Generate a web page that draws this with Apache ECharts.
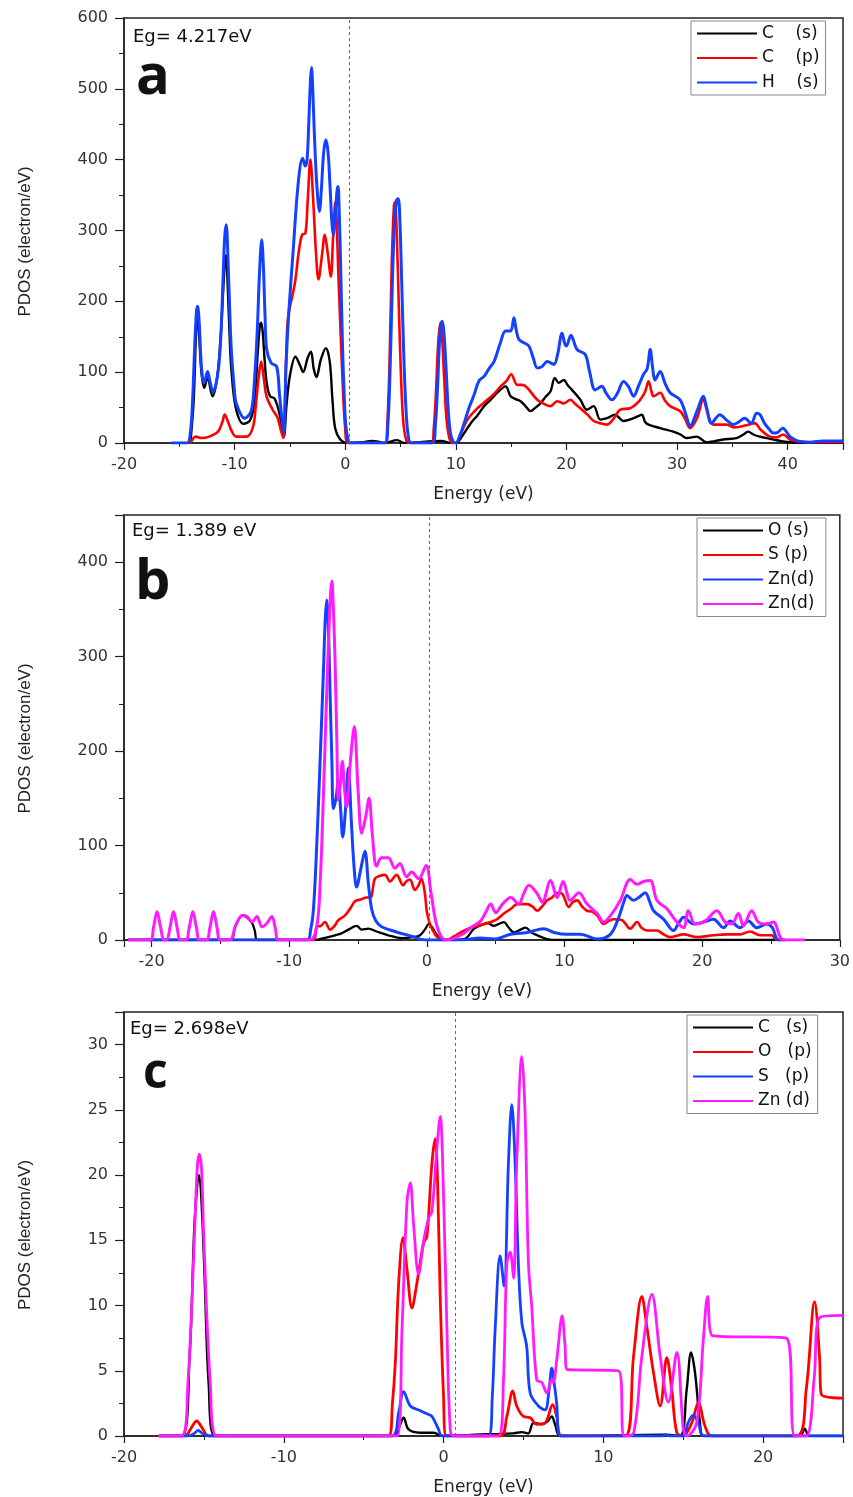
<!DOCTYPE html>
<html>
<head>
<meta charset="utf-8">
<title>PDOS</title>
<script src="https://cdn.jsdelivr.net/npm/echarts@6/dist/echarts.min.js"></script>
<style>
  html, body { margin: 0; padding: 0; background: #fff; }
  #chart { width: 853px; height: 1497px; }
</style>
</head>
<body>
<div id="chart"></div>
<script>
  /******************/
  //region    //data  [energy eV, PDOS]

  // panel a
  const aCs = [[-14.0,0],[-13.7,60],[-13.5,150],[-13.35,185],[-13.2,150],[-13.0,100],[-12.75,78],[-12.45,92],[-12.0,66],[-11.6,90],[-11.3,140],[-11.05,210],[-10.9,250],[-10.78,265],[-10.62,220],[-10.45,150],[-10.3,105],[-9.9,50],[-9.2,27],[-8.6,32],[-8.2,60],[-7.9,130],[-7.72,165],[-7.6,170],[-7.45,155],[-7.3,120],[-7.1,85],[-6.8,66],[-6.4,63],[-6.0,45],[-5.75,25],[-5.55,9],[-5.3,55],[-5.0,95],[-4.5,122],[-4.1,110],[-3.8,100],[-3.4,120],[-3.1,129],[-2.85,105],[-2.6,93],[-2.2,118],[-1.75,134],[-1.4,115],[-1.15,60],[-0.9,20],[-0.45,5],[0.2,0],[1.5,1],[2.4,3],[3.0,2],[3.5,0],[4.7,4],[5.3,0],[8.7,3],[9.5,0],[10,0],[10.5,8],[11.35,28],[12.0,40],[12.55,52],[13.2,62],[13.75,71],[14.5,80],[14.95,66],[15.4,62],[15.85,59],[16.3,52],[16.75,45],[17.2,50],[17.66,56],[18.1,65],[18.56,73],[18.95,92],[19.3,85],[19.76,89],[20.1,82],[20.5,75],[21.26,61],[21.86,47],[22.46,52],[23.06,33],[23.66,35],[24.4,40],[24.8,35],[25.16,31],[26.07,35],[26.5,38],[26.82,40],[27.1,30],[27.42,26],[28.47,21],[29.67,16],[30.3,12],[30.87,7],[31.77,9],[32.67,1],[34.17,5],[35.37,7],[36.0,12],[36.43,16],[36.9,12],[37.48,9],[38.7,5],[40.2,1],[45,0]];
  const aCp = [[-14.0,0],[-13.5,9],[-13.0,7],[-12.3,9],[-11.5,16],[-11.1,30],[-10.9,40],[-10.6,30],[-10.3,18],[-9.85,9],[-8.9,9],[-8.35,22],[-8.1,50],[-7.85,90],[-7.6,115],[-7.35,90],[-7.1,65],[-6.6,48],[-6.1,35],[-5.85,20],[-5.6,7],[-5.45,60],[-5.3,140],[-5.15,179],[-4.55,226],[-4.2,270],[-3.9,294],[-3.6,296],[-3.4,340],[-3.15,400],[-2.9,344],[-2.65,270],[-2.42,231],[-2.1,265],[-1.85,294],[-1.6,270],[-1.3,235],[-1.1,290],[-0.9,340],[-0.6,230],[-0.3,110],[0,20],[0.3,0],[3.6,0],[3.8,25],[4.0,110],[4.2,250],[4.4,335],[4.5,340],[4.65,300],[4.85,190],[5.05,90],[5.25,30],[5.5,5],[5.8,0],[7.8,0],[8.0,20],[8.2,70],[8.4,140],[8.6,170],[8.75,150],[8.95,90],[9.15,35],[9.4,8],[9.7,0],[10,0],[10.5,15],[11.05,33],[11.95,49],[12.85,61],[13.5,70],[14.05,80],[14.6,88],[15.0,97],[15.55,82],[16.0,82],[16.45,78],[17.36,61],[18.0,55],[18.56,52],[19.16,59],[19.76,56],[20.36,61],[20.8,55],[21.26,49],[21.9,40],[22.46,31],[23.0,28],[23.66,26],[24.3,35],[24.86,47],[25.76,49],[26.3,55],[26.67,61],[27.1,72],[27.42,87],[27.7,72],[27.87,66],[28.47,71],[28.9,60],[29.37,52],[30.27,45],[30.7,35],[31.17,21],[31.8,35],[32.37,61],[32.8,40],[33.27,26],[34.47,26],[35.2,22],[35.97,24],[36.5,26],[37.0,28],[37.6,18],[38.4,9],[39.0,8],[39.6,12],[40.2,5],[41.1,2],[42,1],[45,1]];
  const aHs = [[-15.7,0],[-14.3,0],[-14.0,15],[-13.8,60],[-13.6,140],[-13.45,185],[-13.35,193],[-13.2,170],[-13.05,120],[-12.9,92],[-12.75,85],[-12.45,101],[-12.2,85],[-11.95,72],[-11.5,100],[-11.25,150],[-11.05,230],[-10.9,290],[-10.76,308],[-10.62,270],[-10.45,190],[-10.3,132],[-10.05,80],[-9.85,56],[-9.1,35],[-8.5,45],[-8.2,90],[-7.95,160],[-7.75,240],[-7.55,287],[-7.4,250],[-7.25,180],[-7.1,132],[-6.7,113],[-6.2,108],[-5.95,70],[-5.75,38],[-5.55,14],[-5.35,110],[-5.1,185],[-4.7,273],[-4.25,367],[-3.85,402],[-3.62,391],[-3.45,400],[-3.3,450],[-3.15,510],[-3.05,530],[-2.95,505],[-2.8,440],[-2.58,367],[-2.33,327],[-2.15,360],[-1.95,410],[-1.75,428],[-1.55,410],[-1.4,370],[-1.2,310],[-1.08,294],[-0.9,320],[-0.75,355],[-0.65,362],[-0.55,330],[-0.4,240],[-0.25,140],[-0.1,70],[0.05,25],[0.3,2],[0.5,0],[3.6,0],[3.85,25],[4.05,100],[4.25,220],[4.45,310],[4.65,343],[4.8,345],[4.95,310],[5.1,230],[5.3,120],[5.5,45],[5.7,10],[5.95,0],[7.9,0],[8.15,25],[8.35,80],[8.55,150],[8.75,172],[8.9,160],[9.1,110],[9.3,50],[9.5,15],[9.75,2],[10,0],[10.4,12],[10.75,28],[11.2,50],[11.65,68],[12.1,88],[12.55,94],[13.0,105],[13.45,115],[14.0,140],[14.5,158],[14.95,158],[15.25,177],[15.45,160],[15.7,146],[16.1,142],[16.6,137],[17.0,120],[17.36,106],[17.8,108],[18.26,115],[18.86,111],[19.2,125],[19.6,155],[19.85,140],[20.0,137],[20.4,152],[20.96,132],[21.7,125],[22.1,100],[22.6,75],[23.2,80],[23.6,70],[24.1,61],[24.6,70],[25.16,87],[25.6,80],[26.07,66],[26.5,80],[26.97,97],[27.3,105],[27.57,132],[27.8,105],[28.0,89],[28.47,101],[28.9,85],[29.37,71],[30.27,61],[30.8,40],[31.17,24],[31.8,45],[32.37,66],[32.7,48],[33.1,28],[33.87,40],[34.5,32],[35.07,26],[35.6,30],[36.1,35],[36.7,28],[37.2,42],[37.5,40],[37.9,28],[38.3,20],[38.7,14],[39.1,15],[39.55,21],[40.2,9],[40.6,5],[41.1,2],[42,1],[43.2,3],[45,3]];

  // panel b
  const bOs = [[-21.7,0],[-14.3,0],[-13.9,15],[-13.4,26],[-13.07,24],[-12.7,18],[-12.5,10],[-12.3,0],[-8.1,0],[-7.5,2],[-6.67,5],[-6.2,7],[-5.7,11],[-5.1,15],[-4.73,11],[-4.25,12],[-3.65,9],[-2.8,5],[-1.84,2],[-1.0,3],[-0.5,5],[-0.1,12],[0.15,17],[0.4,13],[0.7,6],[1.14,0],[2.7,1],[3.43,12],[4.0,16],[4.4,18],[4.88,15],[5.6,19],[5.9,14],[6.33,8],[6.8,11],[7.17,13],[7.6,8],[8.02,5],[8.74,1],[9.7,0],[26,0]];
  const bSp = [[-21.7,0],[-8.24,0],[-8.0,14],[-7.7,15],[-7.4,19],[-7.03,11],[-6.7,15],[-6.43,21],[-5.94,26],[-5.5,35],[-5.22,41],[-4.8,43],[-4.37,45],[-4.1,45],[-3.77,65],[-3.4,68],[-3.04,69],[-2.68,62],[-2.2,69],[-1.72,58],[-1.5,62],[-1.23,64],[-0.87,53],[-0.6,58],[-0.39,65],[-0.15,50],[0,30],[0.2,18],[0.37,12],[0.77,3],[1.38,0],[2.0,4],[2.46,8],[3.0,12],[3.67,15],[4.2,17],[4.64,19],[5.1,22],[5.6,28],[6.1,33],[6.57,38],[7.3,38],[7.7,35],[8.02,31],[8.4,36],[8.74,42],[9.1,45],[9.47,50],[9.83,49],[10.31,35],[10.6,40],[10.92,42],[11.3,35],[11.64,31],[12.0,30],[12.37,26],[12.85,17],[13.2,20],[13.57,22],[14.18,21],[14.78,12],[15.27,19],[15.6,13],[16.0,10],[16.71,10],[17.2,6],[17.68,3],[18.65,6],[19.61,3],[20.82,5],[21.79,6],[22.75,6],[23.48,9],[24.2,5],[25.05,5],[25.4,0],[26,0]];
  const bZn1 = [[-21.7,0],[-8.7,0],[-8.45,10],[-8.24,32],[-8.0,100],[-7.75,191],[-7.5,290],[-7.38,340],[-7.27,360],[-7.15,330],[-7.03,261],[-6.9,190],[-6.79,139],[-6.6,150],[-6.43,169],[-6.25,135],[-6.11,109],[-5.9,140],[-5.7,182],[-5.5,130],[-5.3,80],[-5.1,56],[-4.8,75],[-4.5,94],[-4.25,60],[-4.0,32],[-3.7,20],[-3.29,14],[-2.32,9],[-1.11,4],[-0.14,0],[2.46,0],[3.9,2],[4.88,1],[6.09,6],[7.3,8],[8.5,12],[9.23,8],[10.2,6],[11.16,6],[12.37,1],[13.33,6],[13.94,24],[14.3,40],[14.54,47],[15.0,42],[15.4,45],[15.87,50],[16.2,40],[16.47,31],[17.2,22],[17.92,10],[18.3,18],[18.65,24],[19.37,17],[20.1,19],[20.82,22],[21.55,13],[22.03,20],[22.75,13],[23.36,20],[23.96,13],[24.69,17],[25.1,13],[25.53,0],[26,0]];
  const bZn2 = [[-21.7,0],[-20.1,0],[-19.85,14],[-19.6,30],[-19.35,14],[-19.1,0],[-18.9,0],[-18.65,14],[-18.4,30],[-18.15,14],[-17.9,0],[-17.5,0],[-17.25,14],[-17.0,30],[-16.75,14],[-16.5,0],[-16.0,0],[-15.75,14],[-15.5,30],[-15.25,14],[-15.0,0],[-14.3,0],[-13.9,15],[-13.4,26],[-13.07,25],[-12.7,19],[-12.34,25],[-11.98,14],[-11.6,18],[-11.26,25],[-11.0,12],[-10.77,0],[-8.48,0],[-8.0,14],[-7.75,60],[-7.51,155],[-7.3,250],[-7.15,314],[-7.0,365],[-6.9,380],[-6.8,355],[-6.67,297],[-6.55,220],[-6.42,148],[-6.28,165],[-6.14,189],[-5.98,160],[-5.82,141],[-5.55,190],[-5.27,226],[-5.0,160],[-4.73,113],[-4.45,130],[-4.2,150],[-3.95,110],[-3.65,78],[-3.29,87],[-2.8,87],[-2.32,76],[-1.96,81],[-1.47,67],[-1.11,72],[-0.6,65],[-0.05,79],[0.3,50],[0.77,13],[1.38,0],[2.46,5],[3.19,13],[3.9,20],[4.3,30],[4.64,38],[5.0,29],[5.5,38],[6.09,45],[6.69,38],[7.0,48],[7.42,58],[8.02,49],[8.38,40],[8.99,63],[9.47,45],[9.9,62],[10.43,42],[11.04,50],[11.64,38],[12.37,28],[12.85,19],[13.45,28],[14.06,42],[14.78,64],[15.27,59],[15.75,62],[16.23,63],[16.71,42],[17.44,33],[18.16,19],[18.65,13],[19.0,31],[19.49,17],[20.22,20],[21.06,31],[21.67,19],[22.15,17],[22.63,28],[23.0,15],[23.6,31],[24.08,19],[24.69,17],[25.17,19],[25.9,0],[27.5,0]];

  // panel c
  const cCs = [[-17.8,0],[-16.4,0],[-15.9,6],[-15.6,16],[-15.4,19.5],[-15.3,20],[-15.15,18],[-14.95,12],[-14.7,4],[-14.3,0],[-3.12,0],[-2.75,0.8],[-2.5,1.4],[-2.19,0.5],[-1.46,0.25],[-0.62,0.25],[-0.1,0],[2.0,0.1],[4.3,0.2],[4.9,0.3],[5.3,0.2],[5.63,1.0],[6.15,0.9],[6.5,1.1],[6.77,1.5],[7.0,0.8],[7.3,0],[13.9,0.1],[14.8,0],[15.22,3.6],[15.49,6.4],[15.74,4.85],[16.05,1.0],[16.26,0],[22.3,0],[22.6,0.56],[22.9,0],[25,0]];
  const cOp = [[-17.8,0],[-16.2,0],[-15.8,0.6],[-15.45,1.15],[-15.1,0.6],[-14.7,0],[-3.44,0],[-3.2,2.5],[-3.02,5.6],[-2.81,11.7],[-2.54,15.2],[-2.29,12.8],[-1.98,9.8],[-1.67,11.7],[-1.25,14.8],[-1.04,15.3],[-0.73,20.9],[-0.52,22.8],[-0.38,19.7],[-0.21,10.7],[0,3],[0.17,0],[3.54,0],[3.96,1.5],[4.33,3.45],[4.58,2.3],[5.0,1.5],[5.42,1.4],[5.83,0.9],[6.35,1.0],[6.83,2.4],[7.08,1.5],[7.4,0],[11.37,0],[11.89,6.1],[12.41,10.7],[12.72,8.4],[13.14,4.85],[13.56,2.3],[13.97,6.0],[14.28,3.6],[14.6,0.25],[15.0,0],[15.53,1.0],[15.95,2.55],[16.36,0.77],[16.78,0],[22.08,0],[22.7,3.6],[23.22,10.3],[23.53,6.1],[23.64,3.2],[25,2.9]];
  const cSp = [[-17.8,0],[-16.0,0],[-15.6,0.2],[-15.35,0.43],[-15.1,0.2],[-14.7,0],[-3.23,0],[-2.81,1.8],[-2.5,3.4],[-2.08,2.3],[-1.56,2.0],[-1.04,1.7],[-0.73,1.5],[-0.31,0.5],[-0.1,0],[2.81,0],[3.05,3],[3.23,8.2],[3.54,13.8],[3.79,11.5],[4.06,20.9],[4.27,25.4],[4.48,20.9],[4.69,13],[4.9,8.7],[5.2,6.9],[5.42,3.3],[5.94,2.3],[6.35,2.0],[6.6,3.5],[6.77,5.2],[6.95,3.8],[7.08,2.5],[7.3,0],[13.7,0],[13.9,0.1],[14.2,0],[15.0,0],[15.3,1.0],[15.63,1.6],[15.95,1.0],[16.3,0],[25,0]];
  const cZn = [[-17.85,0],[-16.4,0],[-16.0,4],[-15.6,15],[-15.42,20.5],[-15.29,21.6],[-15.15,20.5],[-15.0,15],[-14.6,4],[-14.2,0],[-2.92,0],[-2.6,8.2],[-2.29,17.9],[-2.08,19.4],[-1.88,16.3],[-1.56,12.4],[-1.25,14.9],[-0.94,16.7],[-0.73,17.2],[-0.42,22],[-0.21,24.5],[0,18.4],[0.21,8.2],[0.42,0.5],[0.63,0],[3.44,0],[3.75,4.3],[3.96,13.2],[4.17,14.1],[4.38,12.1],[4.58,20.9],[4.9,29.1],[5.1,24.8],[5.31,13.3],[5.52,9.9],[5.83,4.3],[6.15,4.1],[6.46,3.3],[6.77,4.3],[6.86,4.1],[7.1,6],[7.42,9.2],[7.6,7],[7.73,5.1],[10.96,5.0],[11.31,0],[11.9,0.25],[12.41,6.1],[13.04,10.85],[13.56,6.1],[14.07,2.6],[14.6,6.4],[15.01,0.5],[15.22,0],[15.84,1.0],[16.26,7.4],[16.53,10.7],[16.82,7.7],[21.46,7.5],[21.98,0],[22.7,0],[23.2,4.5],[23.53,9.06],[25,9.24]];

  const bandGaps = ['Eg= 4.217eV', 'Eg= 1.389 eV', 'Eg= 2.698eV'];
  const panelTags = ['a', 'b', 'c'];
  const fermiLines = [0.4, 0.15, 0.75];

  //endregion

  /******************/
  //region    //chart

  const BLACK = '#000000', RED = '#ff0000', BLUE = '#1440ff', PINK = '#ff1aff';
  const TICK_FONT = 'DejaVu Sans';

  let tops = [18, 515, 1012];

  function line(name, data, color, idx, width) {
    return {
      name, type: 'line', data,
      xAxisIndex: idx, yAxisIndex: idx,
      showSymbol: false, symbol: 'none',
      smooth: 0.35,
      lineStyle: {color, width: width || 2.6},
      itemStyle: {color},
      z: 3,
    };
  }

  function fermi(idx, x) {
    return {
      type: 'line', data: [], xAxisIndex: idx, yAxisIndex: idx, silent: true,
      markLine: {
        silent: true, symbol: ['none', 'none'], label: {show: false},
        lineStyle: {color: '#666', type: [3, 3], width: 1},
        data: [{xAxis: x}],
      },
    };
  }

  function xAxis(idx, min, max, interval) {
    let ax = {
      type: 'value', gridIndex: idx, min, max,
      name: 'Energy (eV)', nameLocation: 'middle', nameGap: 43,
      nameTextStyle: {fontFamily: TICK_FONT, fontSize: 17, color: '#222'},
      axisLine: {onZero: false, lineStyle: {color: '#222', width: 1.5}},
      axisTick: {length: 7, lineStyle: {color: '#222', width: 1.2}},
      minorTick: {show: true, splitNumber: 2, length: 4, lineStyle: {color: '#222'}},
      axisLabel: {
        fontFamily: TICK_FONT, fontSize: 16, color: '#333', margin: 14,
        formatter: v => (v % 10 === 0 ? String(v) : ''),
      },
      splitLine: {show: false},
    };
    if (interval) ax.interval = interval;
    return ax;
  }

  function yAxis(idx, max, interval) {
    return {
      type: 'value', gridIndex: idx, min: 0, max, interval,
      name: 'PDOS (electron/eV)', nameLocation: 'middle', nameGap: 90,
      nameTextStyle: {fontFamily: 'Liberation Sans', fontSize: 17, color: '#222', padding: [0, 22, 0, 0]},
      axisLine: {onZero: false, lineStyle: {color: '#222', width: 1.5}},
      axisTick: {length: 9, lineStyle: {color: '#222', width: 1.2}},
      minorTick: {show: true, splitNumber: 2, length: 5, lineStyle: {color: '#222'}},
      axisLabel: {
        fontFamily: TICK_FONT, fontSize: 16, color: '#333', margin: 16,
        formatter: v => (Math.abs(v % interval) < 1e-9 ? String(v) : ''),
      },
      splitLine: {show: false},
    };
  }

  function legend(top, left, textWidth, names) {
    return {
      top, left, orient: 'vertical', data: names,
      icon: 'rect', itemWidth: 60, itemHeight: 2.2, itemGap: 7.5,
      padding: [4, 6, 4, 6],
      borderColor: '#888', borderWidth: 1,
      inactiveColor: '#000',
      textStyle: {fontFamily: TICK_FONT, fontSize: 17, color: '#111', width: textWidth, overflow: 'truncate'},
    };
  }

  function textEl(text, x, y, font) {
    return {type: 'text', x, y, style: {text, font, fill: '#111', verticalAlign: 'middle'}, z: 10};
  }

  let option = {
    animation: false,
    backgroundColor: '#fff',
    grid: tops.map(t => ({
      left: 124, top: t, width: 719, height: 425,
      show: true, borderColor: '#222', borderWidth: 1.5, backgroundColor: 'transparent',
    })),
    xAxis: [xAxis(0, -20, 45, 10), xAxis(1, -22, 30), xAxis(2, -20, 25, 10)],
    yAxis: [yAxis(0, 600, 100), yAxis(1, 450, 100), yAxis(2, 32.5, 5)],
    legend: [
      legend(21, 691, 67, ['C    (s)', 'C    (p)', 'H    (s)']),
      legend(518, 697, 63, ['O (s)', 'S (p)', 'Zn(d)', 'Zn(d) ']),
      legend(1015, 687, 73, ['C   (s)', 'O   (p)', 'S   (p)', 'Zn (d)']),
    ],
    series: [
      fermi(0, fermiLines[0]),
      line('C    (s)', aCs, BLACK, 0, 2.4),
      line('C    (p)', aCp, RED, 0, 2.6),
      line('H    (s)', aHs, BLUE, 0, 3),
      fermi(1, fermiLines[1]),
      line('O (s)', bOs, BLACK, 1, 2.3),
      line('S (p)', bSp, RED, 1, 2.6),
      line('Zn(d)', bZn1, BLUE, 1, 3),
      line('Zn(d) ', bZn2, PINK, 1, 3),
      fermi(2, fermiLines[2]),
      line('C   (s)', cCs, BLACK, 2, 2.4),
      line('O   (p)', cOp, RED, 2, 2.8),
      line('S   (p)', cSp, BLUE, 2, 2.8),
      line('Zn (d)', cZn, PINK, 2, 2.8),
    ],
    graphic: [
      textEl(bandGaps[0], 133, 37, '18px "DejaVu Sans"'),
      textEl(bandGaps[1], 132, 531, '18px "DejaVu Sans"'),
      textEl(bandGaps[2], 130, 1029, '18px "DejaVu Sans"'),
      textEl(panelTags[0], 136, 78, 'bold 56px "Open Sans"'),
      textEl(panelTags[1], 135, 583, 'bold 56px "Open Sans"'),
      textEl(panelTags[2], 143, 1074, 'bold 48px "Open Sans"'),
    ],
  };

  let chart = echarts.init(document.getElementById('chart'));
  chart.setOption(option);

  //endregion
</script>
</body>
</html>
